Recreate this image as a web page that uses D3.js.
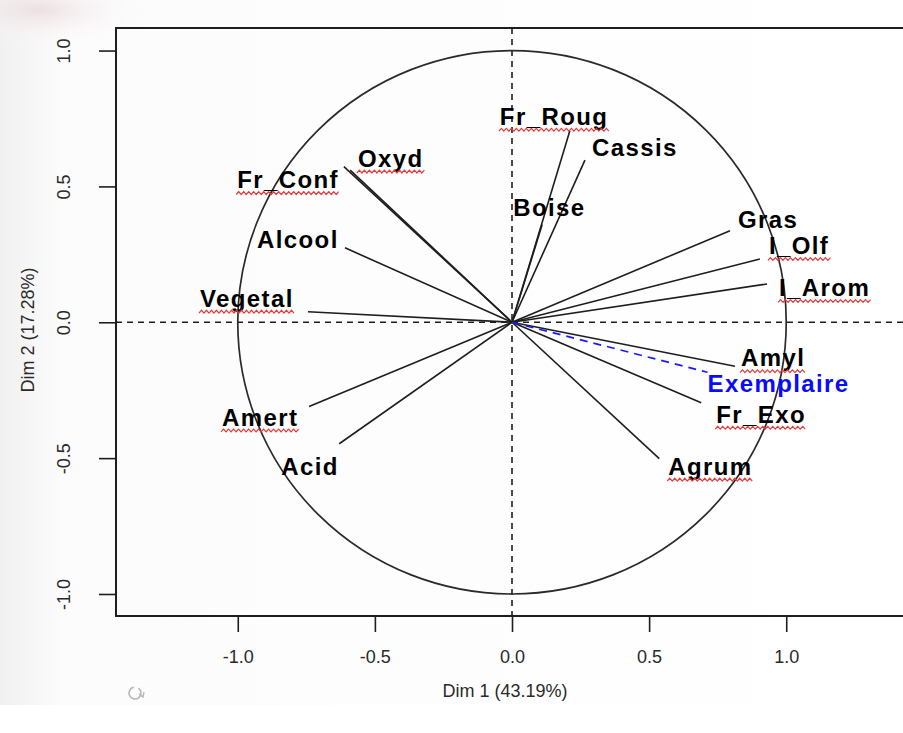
<!DOCTYPE html>
<html>
<head>
<meta charset="utf-8">
<script src="https://cdn.jsdelivr.net/npm/d3@7"></script>
<style>
  html, body { margin: 0; padding: 0; background: #fff; }
  svg { display: block; }
</style>
</head>
<body>
<svg id="chart" width="903" height="733"></svg>
<script>
// Variables factor map: correlations of each variable with Dim 1 and Dim 2
const variables = ["Fr_Roug", "Cassis", "Boise", "Oxyd", "Fr_Conf", "Alcool", "Vegetal",
                   "Amert", "Acid", "Gras", "I_Olf", "I_Arom", "Amyl", "Fr_Exo", "Agrum"];
const dim1 = [0.211, 0.266, 0.110, -0.613, -0.590, -0.609, -0.744,
              -0.740, -0.630, 0.795, 0.904, 0.930, 0.813, 0.690, 0.537];
const dim2 = [0.705, 0.597, 0.360, 0.573, 0.560, 0.274, 0.039,
              -0.310, -0.447, 0.337, 0.233, 0.141, -0.162, -0.296, -0.502];

// Supplementary variable
const supName = "Exemplaire";
const supDim1 = 0.713;
const supDim2 = -0.184;

const xTicks = [-1.0, -0.5, 0.0, 0.5, 1.0];
const yTicks = [-1.0, -0.5, 0.0, 0.5, 1.0];
const xTitle = "Dim 1 (43.19%)";
const yTitle = "Dim 2 (17.28%)";

// Names flagged by the spell checker (wavy red underline)
const flagged = ["Fr_Roug", "Oxyd", "Fr_Conf", "Vegetal", "Amert", "I_Olf", "I_Arom", "Amyl", "Fr_Exo", "Agrum"];

// Label placement relative to the arrow tip, in pixels (left edge, baseline)
const labelOffsets = {
  "Fr_Roug": [-70, -6], "Cassis": [7, -4], "Boise": [-29, -8], "Oxyd": [14, 0],
  "Fr_Conf": [-113, 18], "Alcool": [-88, 0], "Vegetal": [-108, -5], "Amert": [-87, 19],
  "Acid": [-58, 31], "Gras": [8, -3], "I_Olf": [9, -5], "I_Arom": [12, 12],
  "Amyl": [6, 0], "Fr_Exo": [15, 20], "Agrum": [9, 16], "Exemplaire": [0, 20]
};

const svg = d3.select("#chart");

// soft backdrop of the captured window
const defs = svg.append("defs");
const grad = defs.append("linearGradient").attr("id", "bgGrad")
  .attr("x1", "0").attr("x2", "1").attr("y1", "0").attr("y2", "0");
grad.append("stop").attr("offset", "0").attr("stop-color", "#f0f0f0");
grad.append("stop").attr("offset", "0.07").attr("stop-color", "#fcfcfc");
grad.append("stop").attr("offset", "1").attr("stop-color", "#ffffff");
const rg = defs.append("radialGradient").attr("id", "haze");
rg.append("stop").attr("offset", "0").attr("stop-color", "#e9d9dc").attr("stop-opacity", 0.8);
rg.append("stop").attr("offset", "1").attr("stop-color", "#ffffff").attr("stop-opacity", 0);
svg.append("rect").attr("x", 0).attr("y", 0).attr("width", 903).attr("height", 705)
  .attr("fill", "url(#bgGrad)");
svg.append("ellipse").attr("cx", 40).attr("cy", 10).attr("rx", 120).attr("ry", 40)
  .attr("fill", "url(#haze)");

const x = d3.scaleLinear().domain([-1.444, 1.444]).range([116, 908]);
const y = d3.scaleLinear().domain([-1.081, 1.083]).range([616, 28]);

const ink = "#1e1e1e";
const fmt = v => d3.format(".1f")(v).replace("\u2212", "-");

// axes
const xAxis = svg.append("g").attr("transform", "translate(0,616)")
  .call(d3.axisBottom(x).tickValues(xTicks).tickSize(16).tickPadding(18).tickFormat(fmt));
const yAxis = svg.append("g").attr("transform", "translate(116,0)")
  .call(d3.axisLeft(y).tickValues(yTicks).tickSize(17).tickFormat(fmt));
[xAxis, yAxis].forEach(a => {
  a.select(".domain").remove();
  a.selectAll("line").attr("stroke", ink).attr("stroke-width", 1.6);
  a.selectAll("text").attr("fill", "#2a2a2a")
    .style("font-family", "'Liberation Sans', Arial, sans-serif").style("font-size", "18px");
});
yAxis.selectAll("text")
  .attr("x", null).attr("dy", null)
  .attr("text-anchor", "middle")
  .attr("transform", "translate(-46,0) rotate(-90)");

svg.append("text").attr("x", 505).attr("y", 697).attr("text-anchor", "middle")
  .attr("fill", "#2a2a2a")
  .style("font-family", "'Liberation Sans', Arial, sans-serif").style("font-size", "18px")
  .text(xTitle);
svg.append("text").attr("transform", "translate(34,330) rotate(-90)").attr("text-anchor", "middle")
  .attr("fill", "#2a2a2a")
  .style("font-family", "'Liberation Sans', Arial, sans-serif").style("font-size", "18px")
  .text(yTitle);

// plot frame
svg.append("rect").attr("x", x.range()[0]).attr("y", y.range()[1])
  .attr("width", x.range()[1] - x.range()[0]).attr("height", y.range()[0] - y.range()[1])
  .attr("fill", "none").attr("stroke", ink).attr("stroke-width", 2);

// reference lines through the origin
svg.append("line").attr("x1", x.range()[0]).attr("x2", x.range()[1])
  .attr("y1", y(0)).attr("y2", y(0))
  .attr("stroke", ink).attr("stroke-width", 1.6).attr("stroke-dasharray", "6,5");
svg.append("line").attr("x1", x(0)).attr("x2", x(0))
  .attr("y1", y.range()[1]).attr("y2", y.range()[0])
  .attr("stroke", ink).attr("stroke-width", 1.6).attr("stroke-dasharray", "6,5");

// correlation circle
svg.append("ellipse").attr("cx", x(0)).attr("cy", y(0))
  .attr("rx", x(1) - x(0)).attr("ry", y(0) - y(1))
  .attr("fill", "none").attr("stroke", "#2a2a2a").attr("stroke-width", 1.7);

// variable arrows
const rows = variables.map((name, i) => ({ name, d1: dim1[i], d2: dim2[i], sup: false }));
rows.push({ name: supName, d1: supDim1, d2: supDim2, sup: true });

svg.append("g").selectAll("line").data(rows).join("line")
  .attr("x1", x(0)).attr("y1", y(0))
  .attr("x2", d => x(d.d1)).attr("y2", d => y(d.d2))
  .attr("stroke", d => d.sup ? "#1a1aff" : "#1e1e1e")
  .attr("stroke-width", d => d.sup ? 1.7 : 1.6)
  .attr("stroke-dasharray", d => d.sup ? "8,6" : null);

// labels
const labels = svg.append("g").selectAll("text").data(rows).join("text")
  .attr("x", d => x(d.d1) + labelOffsets[d.name][0])
  .attr("y", d => y(d.d2) + labelOffsets[d.name][1])
  .attr("fill", d => d.sup ? "#0a0aff" : "#000")
  .style("font-family", "'Liberation Sans', Arial, sans-serif")
  .style("font-size", "24px").style("font-weight", "bold")
  .style("letter-spacing", "1.4px")
  .text(d => d.name);

// wavy underlines
const squiggles = svg.append("g");
labels.each(function (d) {
  if (!flagged.includes(d.name)) return;
  const w = this.getComputedTextLength();
  const x0 = +this.getAttribute("x") - 1;
  const yb = +this.getAttribute("y") + 5;
  const pts = d3.range(0, Math.ceil(w / 2.5) + 1).map(k => [x0 + k * 2.5, yb + (k % 2 ? -1.4 : 1.4)]);
  squiggles.append("path").attr("d", d3.line()(pts))
    .attr("fill", "none").attr("stroke", "#e83a3a").attr("stroke-width", 1.2);
});

// small refresh glyph in the lower-left corner
const icon = svg.append("g").attr("transform", "translate(135,693)")
  .attr("fill", "none").attr("stroke", "#b8b8b8").attr("stroke-width", 1.6);
icon.append("path").attr("d", d3.arc()({ innerRadius: 6, outerRadius: 6, startAngle: 0.6, endAngle: 2 * Math.PI - 0.2 }));
icon.append("path").attr("d", "M4,1 L8,4 L9,-1").attr("stroke-width", 1.4);
</script>
</body>
</html>
